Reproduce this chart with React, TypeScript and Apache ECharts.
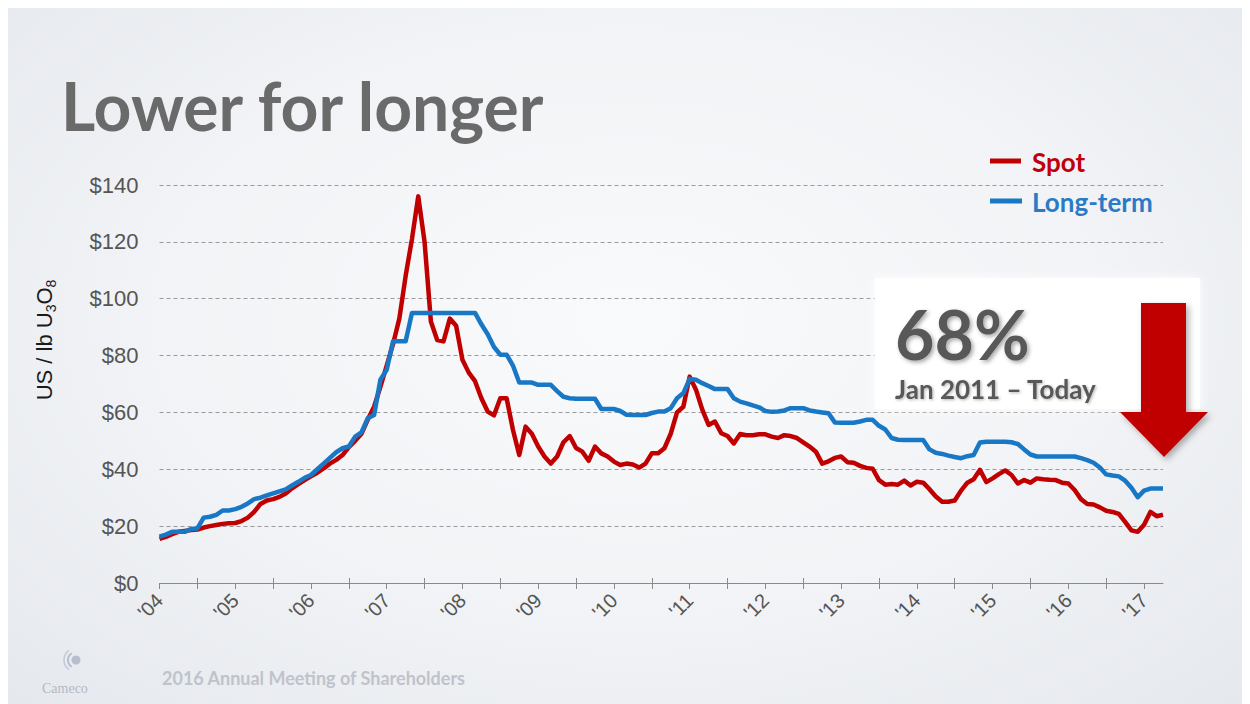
import React, { useEffect, useRef } from "react";
import * as echarts from "echarts";

const years = [2004, 2005, 2006, 2007, 2008, 2009, 2010, 2011, 2012, 2013, 2014, 2015, 2016, 2017];
const yTicks = [0, 20, 40, 60, 80, 100, 120, 140];

const spot = [
  15.5, 16.2, 17.2, 18, 18.3, 18.6, 18.8, 19.5, 20, 20.4, 20.8, 21,
  21.1, 21.8, 23, 25, 27.8, 29, 29.5, 30.3, 31.5, 33.3, 34.8, 36.2,
  37.5, 38.8, 40.3, 42, 43.3, 45, 47.8, 50, 52.5, 57.5, 62, 69,
  76.5, 84, 93, 108, 121, 136, 120, 92, 85.5, 85, 93, 90.5,
  78.5, 74, 71, 65, 60.3, 59, 65, 65, 53.9, 45, 55, 52.5,
  48, 44.5, 42, 44.5, 49.5, 51.7, 47.5, 46.2, 43, 48, 45.6, 44.5,
  42.7, 41.5, 42, 41.7, 40.6, 42, 45.6, 45.6, 47.4, 52.5, 60, 62,
  72.6, 68, 61, 55.6, 56.8, 52.7, 51.7, 49.1, 52.4, 52, 52, 52.3,
  52.3, 51.5, 51, 52, 51.7, 51, 49.5, 48, 46.2, 42, 42.8, 44,
  44.5, 42.5, 42.3, 41.2, 40.5, 40.2, 36.2, 34.6, 34.8, 34.6, 36, 34.3,
  35.6, 35.3, 33, 30.4, 28.6, 28.6, 29, 32.5, 35.3, 36.5, 39.8, 35.5,
  36.8, 38.3, 39.6, 38, 35, 36.2, 35.3, 36.8, 36.5, 36.3, 36.2, 35.3,
  35, 32.7, 29.5, 27.8, 27.6, 26.6, 25.4, 25, 24.3, 21.5, 18.5, 18,
  20.5, 25, 23.5, 24,
];

const longTerm = [
  16.3, 17, 18, 18, 18, 19, 19.2, 23, 23.3, 24, 25.5, 25.5,
  26, 26.8, 28, 29.5, 30, 30.8, 31.5, 32.2, 32.9, 34.3, 35.6, 37,
  38, 40, 42, 44, 46, 47.4, 48, 51.5, 53, 58, 59.1, 71.5,
  75, 85, 85, 85, 95, 95, 95, 95, 95, 95, 95, 95,
  95, 95, 95, 91, 87.5, 83, 80.3, 80.3, 76.5, 70.5, 70.5, 70.5,
  69.7, 69.7, 69.7, 67.5, 65.5, 65, 64.8, 64.8, 64.8, 64.8, 61.2, 61.2,
  61.2, 60.5, 59.2, 59.1, 59.1, 59.1, 59.8, 60.3, 60.3, 61.5, 65, 66.8,
  71.8, 71.5, 70.3, 69.3, 68.2, 68.2, 68.2, 65, 63.8, 63.2, 62.5, 61.8,
  60.5, 60.2, 60.3, 60.7, 61.5, 61.5, 61.5, 60.7, 60.3, 60, 59.7, 56.5,
  56.4, 56.4, 56.4, 56.8, 57.4, 57.4, 55.3, 54, 51, 50.4, 50.3, 50.3,
  50.3, 50.3, 47, 45.8, 45.4, 44.8, 44.3, 43.9, 44.6, 45, 49.4, 49.7,
  49.7, 49.7, 49.7, 49.5, 48.9, 47, 45.2, 44.5, 44.5, 44.5, 44.5, 44.5,
  44.5, 44.5, 43.9, 43.2, 42.3, 40.6, 38.2, 37.8, 37.5, 36, 33.5, 30.2,
  32.5, 33.2, 33.2, 33.2,
];

const months: string[] = [];
years.forEach((y) => {
  for (let m = 1; m <= 12; m++) {
    if (months.length < spot.length) months.push(`${y}-${String(m).padStart(2, "0")}`);
  }
});

const RED = "#c00000";
const BLUE = "#1878c6";

export default function App() {
  const ref = useRef<HTMLDivElement>(null);
  useEffect(() => {
    if (!ref.current) return;
    const chart = echarts.init(ref.current, null, { renderer: "svg" });
    const yearLabel = (v: string) => "'" + v.slice(2, 4);
    chart.setOption({
      animation: false,
      backgroundColor: "transparent",
      grid: { left: 151.5, right: 87, top: 177, bottom: 121, containLabel: false },
      xAxis: [
        {
          type: "category",
          data: months,
          boundaryGap: false,
          axisLine: { show: true, lineStyle: { color: "#8a8a8a", width: 1 } },
          axisTick: {
            show: true,
            length: 6,
            interval: (i: number) => i % 12 === 0,
            lineStyle: { color: "#8a8a8a" },
          },
          axisLabel: {
            show: true,
            interval: (i: number) => i % 12 === 0,
            formatter: yearLabel,
            rotate: 45,
            margin: 14,
            fontSize: 20,
            fontFamily: "Liberation Sans",
            color: "#555555",
          },
          splitLine: { show: false },
        },
        {
          type: "category",
          data: months,
          boundaryGap: false,
          position: "bottom",
          offset: -5,
          axisLine: { show: false },
          axisTick: {
            show: true,
            length: 11,
            interval: (i: number) => i % 12 === 6,
            lineStyle: { color: "#8a8a8a" },
          },
          axisLabel: { show: false },
          splitLine: { show: false },
        },
      ],
      yAxis: {
        type: "value",
        min: yTicks[0],
        max: yTicks[yTicks.length - 1],
        interval: 20,
        axisLine: { show: false },
        axisTick: { show: false },
        axisLabel: {
          formatter: (v: number) => "$" + v,
          fontSize: 22,
          fontFamily: "Liberation Sans",
          color: "#555555",
          margin: 21,
        },
        splitLine: { show: true, lineStyle: { color: "#9a9a9a", type: [4, 3], width: 1 } },
      },
      series: [
        {
          name: "Spot",
          type: "line",
          data: spot,
          showSymbol: false,
          symbol: "none",
          lineStyle: { color: RED, width: 4.5, join: "round" },
          itemStyle: { color: RED },
          z: 3,
        },
        {
          name: "Long-term",
          type: "line",
          data: longTerm,
          showSymbol: false,
          symbol: "none",
          lineStyle: { color: BLUE, width: 4.5, join: "round" },
          itemStyle: { color: BLUE },
          z: 4,
        },
      ],
      graphic: {
        elements: [
          {
            type: "text",
            x: 53,
            y: 97,
            style: {
              text: "Lower for longer",
              font: 'bold 66px Lato',
              fill: "#6a6a6a",
              align: "left",
              verticalAlign: "middle",
              textAlign: "left",
              textVerticalAlign: "middle",
            },
          },
          {
            type: "text",
            x: 36,
            y: 332,
            rotation: Math.PI / 2,
            style: {
              text: "US / lb U{s|3}O{s|8}",
              font: '22px "Liberation Sans"',
              fill: "#1a1a1a",
              lineHeight: 28,
              align: "center",
              verticalAlign: "middle",
              textAlign: "center",
              textVerticalAlign: "middle",
              rich: {
                s: { fontSize: 14, fontFamily: "Liberation Sans", lineHeight: 14, verticalAlign: "bottom", fill: "#1a1a1a" },
              },
            },
          },
          // legend
          { type: "line", shape: { x1: 982, y1: 153, x2: 1013, y2: 153 }, style: { stroke: RED, lineWidth: 5 } },
          {
            type: "text",
            x: 1024,
            y: 154,
            style: { text: "Spot", font: 'bold 26px Lato', fill: "#c0000a", align: "left", verticalAlign: "middle", textAlign: "left", textVerticalAlign: "middle" },
          },
          { type: "line", shape: { x1: 982, y1: 193, x2: 1014, y2: 193 }, style: { stroke: BLUE, lineWidth: 5 } },
          {
            type: "text",
            x: 1024,
            y: 194,
            style: { text: "Long-term", font: 'bold 26px Lato', fill: "#2a7bc6", align: "left", verticalAlign: "middle", textAlign: "left", textVerticalAlign: "middle" },
          },
          // annotation box
          {
            type: "rect",
            z: 50,
            shape: { x: 867, y: 270, width: 325, height: 131 },
            style: { fill: "#ffffff", shadowBlur: 10, shadowColor: "rgba(255,255,255,0.95)" },
          },
          {
            type: "text",
            z: 51,
            x: 887,
            y: 325,
            style: {
              text: "68%",
              font: 'bold 68px Lato',
              fill: "#595959",
              align: "left",
              verticalAlign: "middle",
              textAlign: "left",
              textVerticalAlign: "middle",
              textShadowColor: "rgba(0,0,0,0.35)",
              textShadowBlur: 4,
              textShadowOffsetX: 2,
              textShadowOffsetY: 2,
            },
          },
          {
            type: "text",
            z: 51,
            x: 887,
            y: 381,
            style: {
              text: "Jan 2011 \u2013 Today",
              font: 'bold 26px Lato',
              fill: "#595959",
              align: "left",
              verticalAlign: "middle",
              textAlign: "left",
              textVerticalAlign: "middle",
              textShadowColor: "rgba(0,0,0,0.3)",
              textShadowBlur: 3,
              textShadowOffsetX: 1,
              textShadowOffsetY: 1,
            },
          },
          {
            type: "polygon",
            z: 52,
            shape: {
              points: [
                [1133, 295],
                [1178, 295],
                [1178, 404],
                [1200, 404],
                [1156, 449],
                [1112, 404],
                [1133, 404],
              ],
            },
            style: { fill: "#c00000", shadowBlur: 6, shadowColor: "rgba(0,0,0,0.3)", shadowOffsetX: 3, shadowOffsetY: 3 },
          },
          // footer logo
          { type: "circle", shape: { cx: 68, cy: 652, r: 4.5 }, style: { fill: "#b6bfcd" } },
          {
            type: "arc",
            shape: { cx: 68, cy: 652, r: 8, startAngle: Math.PI * 0.68, endAngle: Math.PI * 1.32 },
            style: { stroke: "#b6bfcd", lineWidth: 2, fill: "none" },
          },
          {
            type: "arc",
            shape: { cx: 68, cy: 652, r: 12, startAngle: Math.PI * 0.7, endAngle: Math.PI * 1.3 },
            style: { stroke: "#c3cad6", lineWidth: 1.5, fill: "none" },
          },
          {
            type: "text",
            x: 34,
            y: 680,
            style: { text: "Cameco", font: '14px "Liberation Serif"', fill: "#b4b9c5", align: "left", verticalAlign: "middle", textAlign: "left", textVerticalAlign: "middle" },
          },
          {
            type: "text",
            x: 154,
            y: 670,
            style: {
              text: "2016 Annual Meeting of Shareholders",
              font: 'bold 18px Lato',
              fill: "#c0c3cc",
              align: "left",
              verticalAlign: "middle",
              textAlign: "left",
              textVerticalAlign: "middle",
            },
          },
        ],
      },
    });
    return () => chart.dispose();
  }, []);
  return (
    <div
      ref={ref}
      style={{
        width: 1242,
        height: 696,
        background:
          "radial-gradient(ellipse at 50% 45%, #f9fafb 0%, #f1f3f6 55%, #e5e8ed 100%)",
      }}
    />
  );
}
